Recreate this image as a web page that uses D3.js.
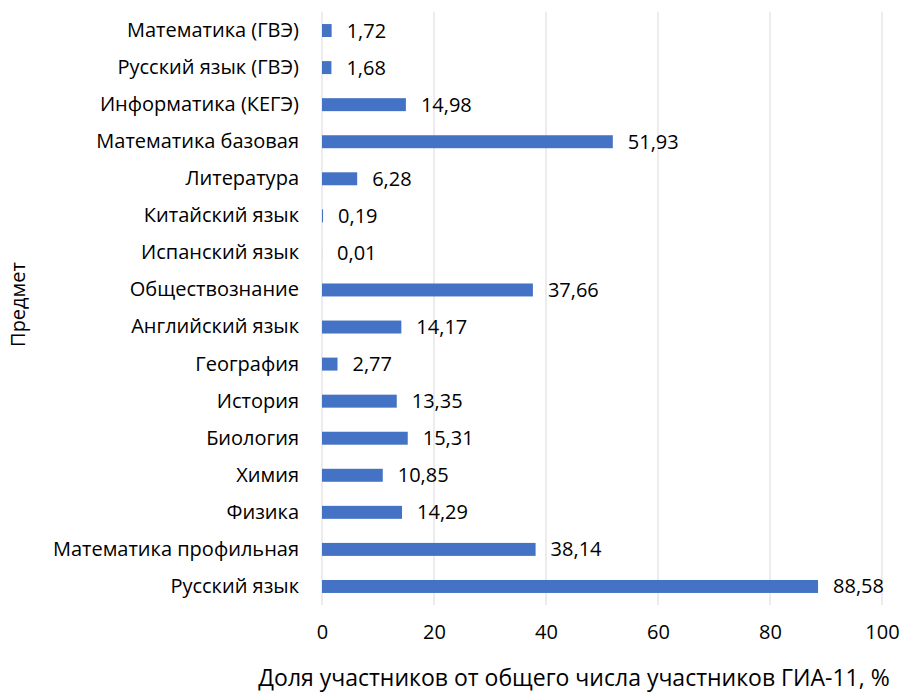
<!DOCTYPE html>
<html>
<head>
<meta charset="utf-8">
<script src="https://cdn.jsdelivr.net/npm/d3@7"></script>
<style>
  body { margin: 0; background: #fff; }
  text { font-family: "Open Sans", Lato, sans-serif; fill: #000; }
</style>
</head>
<body>
<div id="chart"></div>
<script>
// categories, top to bottom
var subjects = ["Математика (ГВЭ)", "Русский язык (ГВЭ)", "Информатика (КЕГЭ)", "Математика базовая",
  "Литература", "Китайский язык", "Испанский язык", "Обществознание", "Английский язык",
  "География", "История", "Биология", "Химия", "Физика", "Математика профильная", "Русский язык"];
var shares = [1.72, 1.68, 14.98, 51.93, 6.28, 0.19, 0.01, 37.66, 14.17, 2.77, 13.35, 15.31, 10.85, 14.29, 38.14, 88.58];
var xTicks = [0, 20, 40, 60, 80, 100];

var data = subjects.map(function(s, i) { return {subject: s, value: shares[i]}; });

var margin = {top: 12, right: 21, bottom: 90, left: 322},
    width = 903 - margin.left - margin.right,
    height = 695 - margin.top - margin.bottom;

var fontSize = "20px";

var svg = d3.select("#chart")
  .append("svg")
    .attr("width", 903)
    .attr("height", 695)
  .append("g")
    .attr("transform", "translate(" + margin.left + "," + margin.top + ")");

var x = d3.scaleLinear().domain([0, 100]).range([0, width]);
var y = d3.scaleBand().domain(subjects).range([0, height]).paddingInner(0.65).paddingOuter(0.325);

// grid lines
svg.selectAll(".grid")
  .data(xTicks)
  .enter()
  .append("line")
    .attr("x1", d => x(d)).attr("x2", d => x(d))
    .attr("y1", 0).attr("y2", height)
    .style("stroke", "#d9d9d9")
    .style("stroke-width", 1);

// x axis labels
svg.append("g")
  .attr("transform", "translate(0," + height + ")")
  .style("font-size", fontSize)
  .call(d3.axisBottom(x).tickValues(xTicks).tickSize(0).tickPadding(20))
  .call(g => g.select(".domain").remove());

// y axis labels
svg.append("g")
  .style("font-size", fontSize)
  .call(d3.axisLeft(y).tickSize(0).tickPadding(23))
  .call(g => g.select(".domain").remove());

svg.selectAll(".tick text").style("font-family", "'Open Sans', Lato, sans-serif").attr("fill", "#000");

// bars
svg.selectAll(".bar")
  .data(data)
  .enter()
  .append("rect")
    .attr("x", 0)
    .attr("y", d => y(d.subject))
    .attr("width", d => x(d.value))
    .attr("height", y.bandwidth())
    .style("fill", "#4472c4");

// value labels
svg.selectAll(".lbl")
  .data(data)
  .enter()
  .append("text")
    .attr("x", d => x(d.value) + 15)
    .attr("y", d => y(d.subject) + y.bandwidth() / 2)
    .attr("dy", "0.35em")
    .style("font-size", fontSize)
    .text(d => d.value.toFixed(2).replace(".", ","));

// axis titles
svg.append("text")
  .attr("x", 252)
  .attr("y", height + 81)
  .attr("text-anchor", "middle")
  .style("font-size", "23px")
  .text("Доля участников от общего числа участников ГИА-11, %");

svg.append("text")
  .attr("transform", "translate(" + (-297) + "," + (height / 2 - 4) + ") rotate(-90)")
  .attr("text-anchor", "middle")
  .style("font-size", "20px")
  .text("Предмет");
</script>
</body>
</html>
